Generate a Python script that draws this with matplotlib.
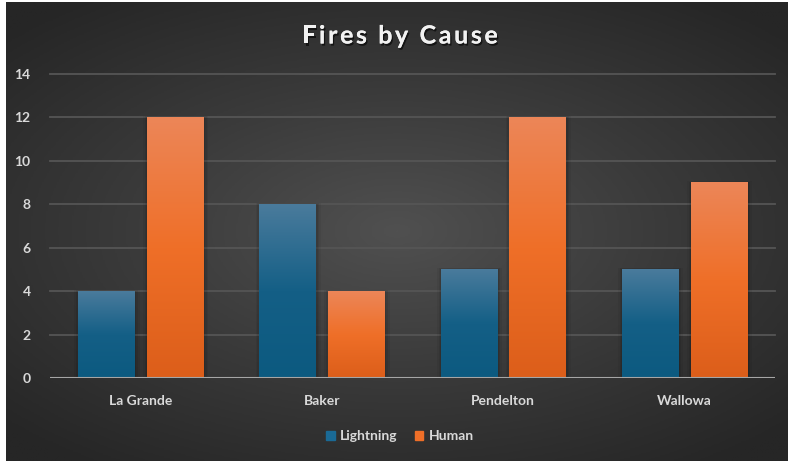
import numpy as np
import matplotlib
matplotlib.use("Agg")
import matplotlib.pyplot as plt
from matplotlib.colors import LinearSegmentedColormap
from matplotlib.patches import Rectangle
import matplotlib.patheffects as pe

categories = ["La Grande", "Baker", "Pendelton", "Wallowa"]
lightning = [4, 8, 5, 5]
human = [12, 4, 12, 9]
series_names = ["Lightning", "Human"]
yticks = [0, 2, 4, 6, 8, 10, 12, 14]
title = "Fires by Cause"

W, H = 788, 461
fig = plt.figure(figsize=(W / 100, H / 100), dpi=100, facecolor="white")
plt.rcParams['font.family'] = ['Lato', 'DejaVu Sans']

# background radial gradient
bg = fig.add_axes([6 / W, 0, 1 - 6 / W, 1 - 2 / H])
bg.set_axis_off()
yy, xx = np.mgrid[-1:1:300j, -1:1:500j]
r = np.sqrt((xx * 0.9) ** 2 + (yy * 1.0) ** 2)
r = np.clip(r / 1.25, 0, 1)
bgcmap = LinearSegmentedColormap.from_list("bg", ["#505050", "#3a3a3a", "#262626"])
bg.imshow(r, cmap=bgcmap, aspect="auto", extent=[0, 1, 0, 1], vmin=0, vmax=1)
bg.set_xlim(0, 1)
bg.set_ylim(0, 1)

ax = fig.add_axes([50 / W, 1 - 378 / H, 725 / W, (378 - 74) / H])
ax.patch.set_alpha(0)

for t in yticks[1:]:
    ax.axhline(t, color="#555555", lw=1.3, zorder=0, clip_on=False)
ax.axhline(0, color="#a6a6a6", lw=1.5, zorder=3)

blue_cmap = LinearSegmentedColormap.from_list("b", ["#0c5a80", "#145f86", "#4a7b9c"])
orange_cmap = LinearSegmentedColormap.from_list("o", ["#dc5e1a", "#ef6f28", "#ec8658"])
grad = np.linspace(0, 1, 256).reshape(-1, 1)

bw = 0.31
off = 0.19
x = np.arange(len(categories))
for vals, cmap, sign in [(lightning, blue_cmap, -1), (human, orange_cmap, 1)]:
    bars = ax.bar(x + sign * off, vals, width=bw, color="none", zorder=2)
    for b in bars:
        x0, w, h = b.get_x(), b.get_width(), b.get_height()
        # soft shadow
        for k, a in [(0.025, 0.05), (0.015, 0.07), (0.007, 0.08)]:
            ax.add_patch(Rectangle((x0 - k + 0.004, 0), w + 2 * k, h + k * 3,
                                   facecolor="black", alpha=a, lw=0, zorder=1.5))
        ax.imshow(grad, cmap=cmap, origin="lower", aspect="auto",
                  extent=[x0, x0 + w, 0, h], zorder=2)
ax.set_xlim(-0.5, len(categories) - 0.5)
ax.set_ylim(0, 14)

for s in ax.spines.values():
    s.set_visible(False)
ax.set_yticks(yticks)
ax.set_yticklabels([str(v) for v in yticks])
ax.set_xticks(x)
ax.set_xticklabels(categories)
ax.tick_params(axis="both", length=0, colors="#d9d9d9", labelsize=10)
ax.tick_params(axis="y", pad=14)
ax.tick_params(axis="x", pad=12)
for lab in ax.get_xticklabels() + ax.get_yticklabels():
    lab.set_fontweight("bold")
    lab.set_color("#d9d9d9")

# title with letter spacing
renderer = fig.canvas.get_renderer()
tkw = dict(fontsize=18, fontweight="bold", color="#f2f2f2", va="center", ha="left",
           path_effects=[pe.withSimplePatchShadow(offset=(1, -1.5), shadow_rgbFace="black", alpha=0.6),
                         pe.Normal()])
spacing = 2.6
widths = []
for ch in title:
    tt = fig.text(0, 0, ch if ch != " " else "a", **tkw)
    bb = tt.get_window_extent(renderer)
    if ch == " ":
        tt2 = fig.text(0, 0, "a a", **tkw)
        bb2 = tt2.get_window_extent(renderer)
        widths.append(bb2.width - 2 * bb.width)
        tt2.remove()
    else:
        widths.append(bb.width)
    tt.remove()
total = sum(widths) + spacing * (len(title) - 1)
xpos = 400 - total / 2
for ch, wdt in zip(title, widths):
    if ch != " ":
        fig.text(xpos / W, 1 - 36 / H, ch, **tkw)
    xpos += wdt + spacing

handles = [Rectangle((0, 0), 1, 1, color="#1a6a96"), Rectangle((0, 0), 1, 1, color="#ef6f28")]
leg = fig.legend(handles, series_names, loc="center", bbox_to_anchor=(400 / W, 1 - 436 / H),
                 ncol=2, frameon=False, handlelength=0.6, handleheight=0.6,
                 handletextpad=0.4, columnspacing=1.2, fontsize=10)
for t in leg.get_texts():
    t.set_color("#d9d9d9")
    t.set_fontweight("bold")

fig.savefig("out.png", dpi=100, facecolor="white")
